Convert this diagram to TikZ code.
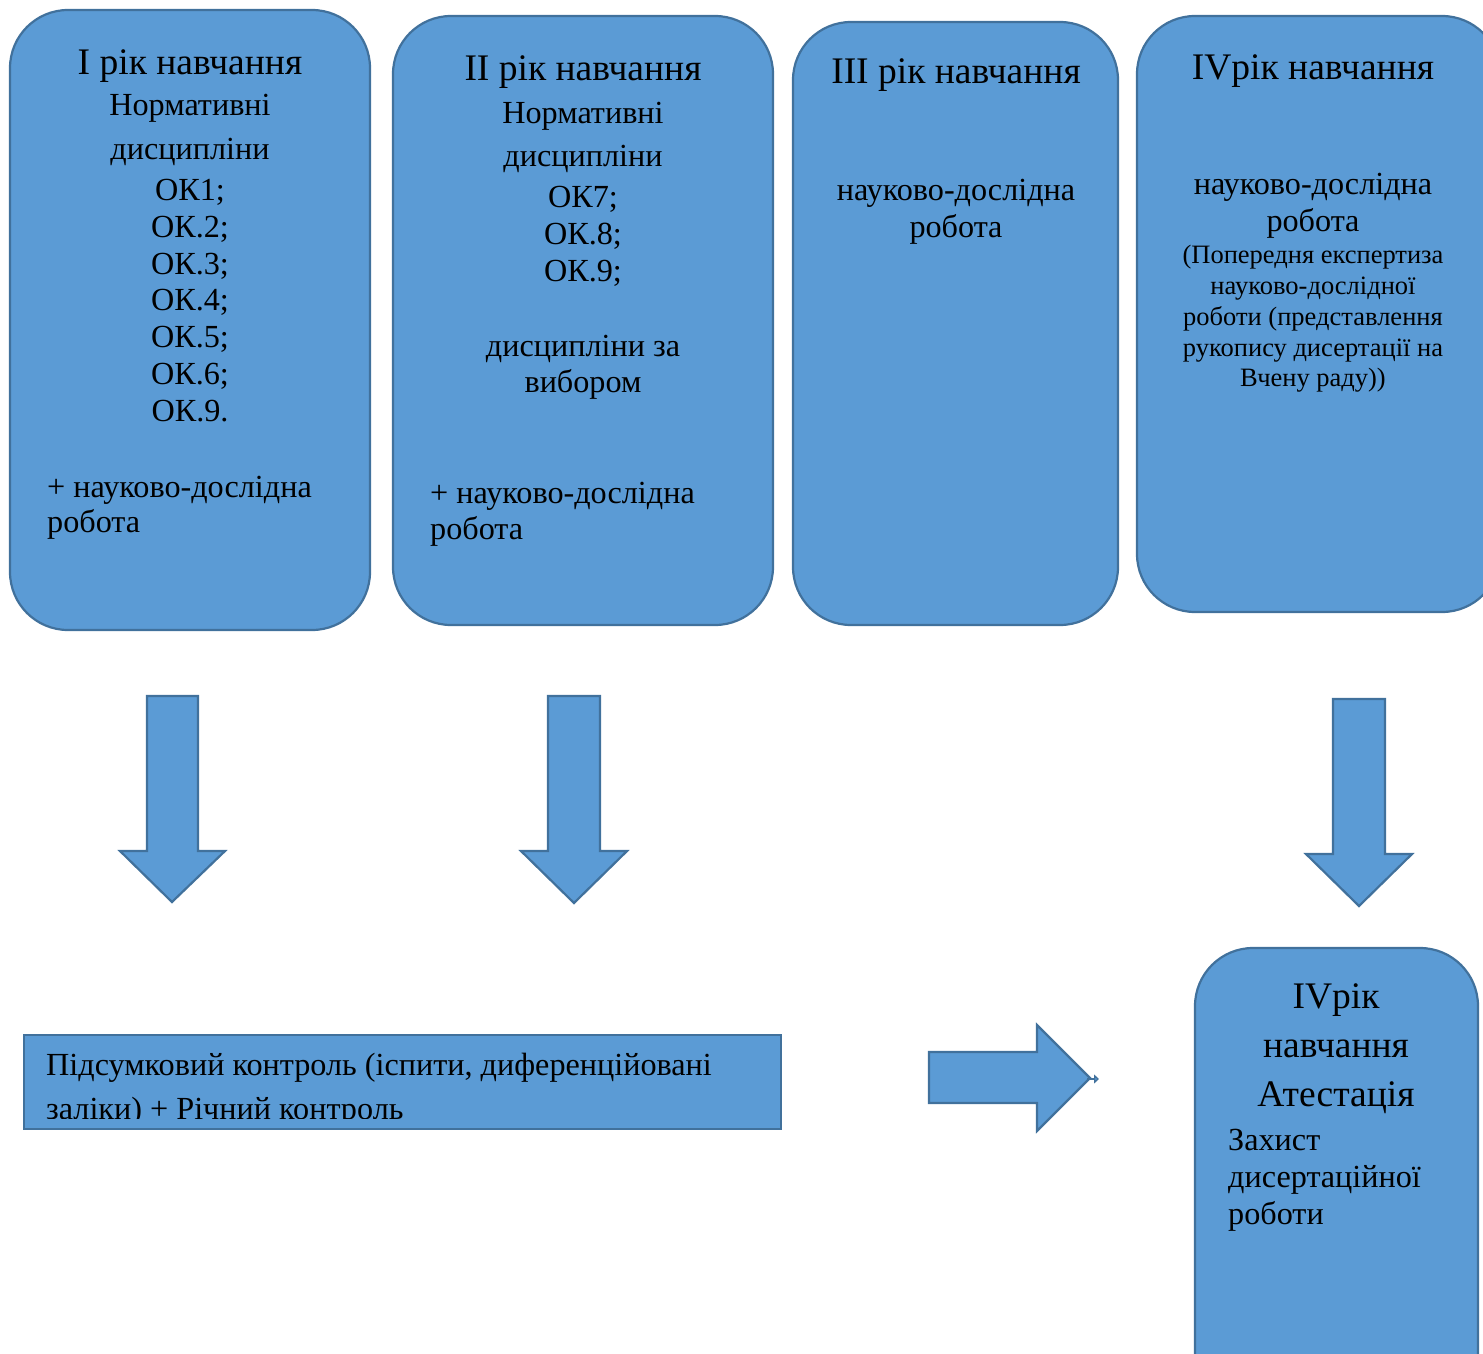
\documentclass[tikz,border=0pt]{standalone}
\usepackage{fontspec}
\setmainfont{Liberation Serif}
\usetikzlibrary{arrows.meta}
\definecolor{boxfill}{HTML}{5B9BD5}
\definecolor{boxline}{HTML}{41719C}
\tikzset{
	yearbox/.style={draw=boxline, fill=boxfill, line width=2.2pt, rounded corners=58pt},
	blockarrow/.style={draw=boxline, fill=boxfill, line width=2.2pt, line join=miter},
	big/.style={font=\fontsize{37.5}{44}\selectfont, inner sep=0pt, text height=24.8pt, text depth=0pt},
	txt/.style={font=\fontsize{32.2}{38}\selectfont, inner sep=0pt, text height=21.3pt, text depth=0pt},
	small/.style={font=\fontsize{26.5}{31}\selectfont, inner sep=0pt, text height=17.5pt, text depth=0pt},
}

\begin{document}
\begin{tikzpicture}[x=1pt, y=-1pt]
			%%%%% START %%%%%
			\useasboundingbox (0, 0) rectangle (1483, 1354);
			\clip (0, 0) rectangle (1483, 1354);
			
			% year boxes
			\draw[yearbox] (10, 10) rectangle (370, 630);
			\draw[yearbox] (393, 16) rectangle (773, 625);
			\draw[yearbox] (793, 22) rectangle (1118, 625);
			\draw[yearbox] (1137, 16) rectangle (1500, 612);
			\draw[yearbox] (1195, 948) rectangle (1478, 1420);
			
			% first year
			\node[big] (y1) at (190, 62) {I рік навчання};
			\node[txt] (y1a) at (190, 105) {Нормативні};
			\node[txt] (y1b) at (190, 149) {дисципліни};
			\node[txt] (ok1) at (190, 190) {ОК1;};
			\node[txt] (ok2) at (190, 227) {ОК.2;};
			\node[txt] (ok3) at (190, 264) {ОК.3;};
			\node[txt] (ok4) at (190, 300) {ОК.4;};
			\node[txt] (ok5) at (190, 337) {ОК.5;};
			\node[txt] (ok6) at (190, 374) {ОК.6;};
			\node[txt] (ok9a) at (190, 411) {ОК.9.};
			\node[txt, anchor=west] (y1c) at (47, 487) {+ науково-дослідна};
			\node[txt, anchor=west] (y1d) at (47, 522) {робота};
			
			% second year
			\node[big] (y2) at (583, 68) {II рік навчання};
			\node[txt] (y2a) at (583, 113) {Нормативні};
			\node[txt] (y2b) at (583, 156) {дисципліни};
			\node[txt] (ok7) at (583, 197) {ОК7;};
			\node[txt] (ok8) at (583, 234) {ОК.8;};
			\node[txt] (ok9b) at (583, 271) {ОК.9;};
			\node[txt] (y2c) at (583, 346) {дисципліни за};
			\node[txt] (y2d) at (583, 382) {вибором};
			\node[txt, anchor=west] (y2e) at (430, 493) {+ науково-дослідна};
			\node[txt, anchor=west] (y2f) at (430, 529) {робота};
			
			% third year
			\node[big] (y3) at (956, 71) {III рік навчання};
			\node[txt] (y3a) at (956, 190) {науково-дослідна};
			\node[txt] (y3b) at (956, 227) {робота};
			
			% fourth year
			\node[big] (y4) at (1313, 67) {IVрік навчання};
			\node[txt] (y4a) at (1313, 184) {науково-дослідна};
			\node[txt] (y4b) at (1313, 221) {робота};
			\node[small] (y4c) at (1313, 255) {(Попередня експертиза};
			\node[small] (y4d) at (1313, 286) {науково-дослідної};
			\node[small] (y4e) at (1313, 317) {роботи (представлення};
			\node[small] (y4f) at (1313, 348) {рукопису дисертації на};
			\node[small] (y4g) at (1313, 378) {Вчену раду))};
			
			% down arrows
			\draw[blockarrow] (147, 696) -- (198, 696) -- (198, 851) -- (225, 851) -- (172, 902) -- (120, 851) -- (147, 851) -- cycle;
			\draw[blockarrow] (548, 696) -- (600, 696) -- (600, 851) -- (627, 851) -- (574, 903) -- (521, 851) -- (548, 851) -- cycle;
			\draw[blockarrow] (1333, 699) -- (1385, 699) -- (1385, 854) -- (1412, 854) -- (1359, 906) -- (1306, 854) -- (1333, 854) -- cycle;
			
			% final control
			\draw[draw=boxline, fill=boxfill, line width=2.2pt] (24, 1035) rectangle (781, 1129);
			\begin{scope}
				\clip (24, 1035) rectangle (781, 1118);
				\node[txt, anchor=west] (ctl1) at (46, 1065) {Підсумковий контроль (іспити, диференційовані};
				\node[txt, anchor=west] (ctl2) at (46, 1109) {заліки) + Річний контроль};
			\end{scope}
			
			% right arrow
			\draw[blockarrow] (929, 1052) -- (1037, 1052) -- (1037, 1025) -- (1090, 1078) -- (1037, 1131) -- (1037, 1103) -- (929, 1103) -- cycle;
			\coordinate (tip) at (1087, 1079);
			\coordinate (tipend) at (1099, 1079);
			\draw[draw=boxline, line width=1.5pt, -{Triangle[length=5pt, width=9pt, fill=boxfill]}] (tip) -- (tipend);
			
			% attestation
			\node[big] (y5) at (1336, 996) {IVрік};
			\node[big] (y5a) at (1336, 1045) {навчання};
			\node[big] (y5b) at (1336, 1094) {Атестація};
			\node[txt, anchor=west] (y5c) at (1228, 1140) {Захист};
			\node[txt, anchor=west] (y5d) at (1228, 1177) {дисертаційної};
			\node[txt, anchor=west] (y5e) at (1228, 1214) {роботи};
			
			%%%%% END %%%%%
\end{tikzpicture}
\end{document}
